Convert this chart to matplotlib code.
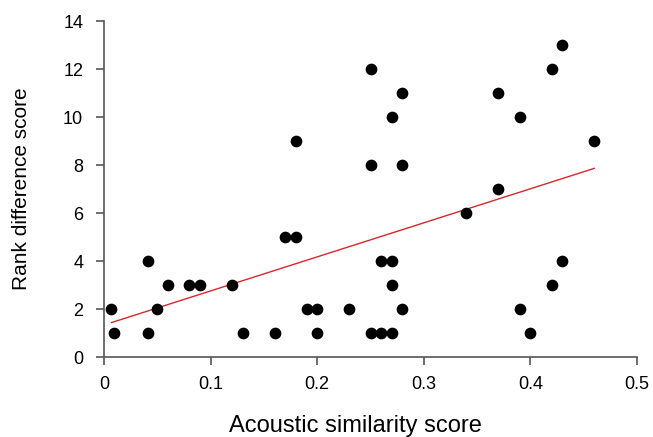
import matplotlib.pyplot as plt
import numpy as np

plt.rcParams['font.family'] = ['Liberation Sans', 'DejaVu Sans']

# acoustic similarity vs rank difference
acoustic = [0.007, 0.009, 0.041, 0.041, 0.05, 0.06, 0.08, 0.09, 0.12, 0.13,
            0.16, 0.17, 0.18, 0.18, 0.19, 0.20, 0.20, 0.23, 0.25, 0.25,
            0.25, 0.26, 0.26, 0.27, 0.27, 0.27, 0.27, 0.28, 0.28, 0.28,
            0.34, 0.37, 0.37, 0.39, 0.39, 0.40, 0.42, 0.42, 0.43, 0.43,
            0.46]
rank_diff = [2, 1, 4, 1, 2, 3, 3, 3, 3, 1,
             1, 5, 5, 9, 2, 2, 1, 2, 1, 8,
             12, 1, 4, 1, 3, 4, 10, 2, 8, 11,
             6, 7, 11, 2, 10, 1, 3, 12, 4, 13,
             9]

xticks = [0, 0.1, 0.2, 0.3, 0.4, 0.5]
yticks = [0, 2, 4, 6, 8, 10, 12, 14]

fig = plt.figure(figsize=(6.53, 4.37), dpi=100)
ax = fig.add_axes([104/653, 1 - 357/437, (637 - 104)/653, (357 - 21)/437])

x = np.array(acoustic)
y = np.array(rank_diff)
slope, icpt = np.polyfit(x, y, 1)
xx = np.array([x.min(), x.max()])
ax.plot(xx, slope*xx + icpt, color='#d9262c', lw=1, zorder=2)

ax.scatter(x, y, s=55, color='black', zorder=3, clip_on=False)

ax.set_xlim(0, 0.5)
ax.set_ylim(0, 14)
ax.set_xticks(xticks)
ax.set_xticklabels(['0' if t == 0 else str(t) for t in xticks])
ax.set_yticks(yticks)

for s in ['top', 'right']:
    ax.spines[s].set_visible(False)
for s in ['left', 'bottom']:
    ax.spines[s].set_color('#555555')
    ax.spines[s].set_linewidth(1.2)

ax.tick_params(direction='out', length=6, width=1.2, color='#555555', labelsize=13)
ax.tick_params(axis='x', pad=8)
ax.tick_params(axis='y', pad=9)

ax.set_xlabel('Acoustic similarity score', fontsize=17, va='baseline')
ax.xaxis.set_label_coords(0.471, -75/336)
ax.set_ylabel('Rank difference score', fontsize=15, va='center')
ax.yaxis.set_label_coords(-82/533, 0.5)

plt.savefig('out.png', dpi=100)
